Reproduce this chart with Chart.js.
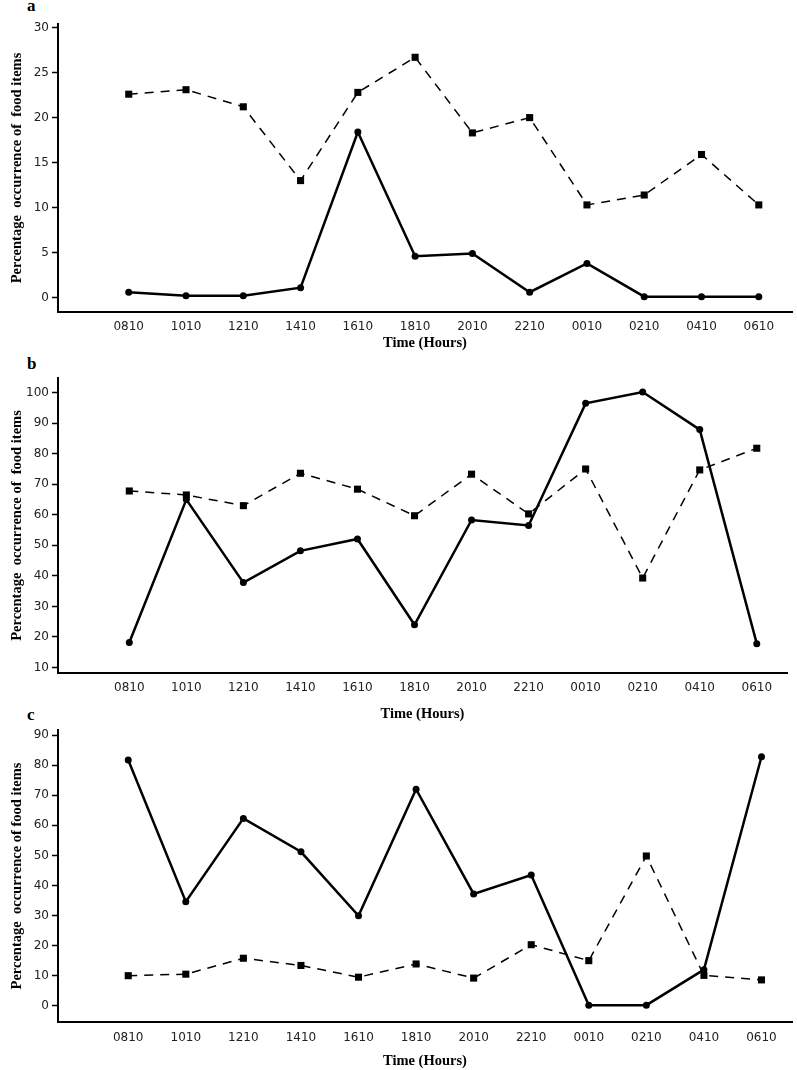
<!DOCTYPE html>
<html>
<head>
<meta charset="utf-8">
<script src="https://cdn.jsdelivr.net/npm/chart.js@4.4.1/dist/chart.umd.min.js"></script>
<style>
  html, body { margin: 0; padding: 0; background: #fff; }
  body { width: 797px; height: 1070px; position: relative; overflow: hidden; }
  canvas { position: absolute; left: 0; }
  .tag { position: absolute; font: bold 17px "Liberation Serif", serif; color: #000; }
</style>
</head>
<body>
<div class="tag" style="left:27px; top:-4px;">a</div>
<div class="tag" style="left:27px; top:354px;">b</div>
<div class="tag" style="left:27px; top:705px;">c</div>
<canvas id="chartA" style="top:0px;"></canvas>
<canvas id="chartB" style="top:355px;"></canvas>
<canvas id="chartC" style="top:705px;"></canvas>
<script>
const times = ['0810', '1010', '1210', '1410', '1610', '1810', '2010', '2210', '0010', '0210', '0410', '0610'];

// panel a
const aCircle = [0.6, 0.2, 0.2, 1.1, 18.4, 4.6, 4.9, 0.6, 3.8, 0.1, 0.1, 0.1];
const aSquare = [22.6, 23.1, 21.2, 13.0, 22.8, 26.7, 18.3, 20.0, 10.3, 11.4, 15.9, 10.3];
const aTicks = [0, 5, 10, 15, 20, 25, 30];

// panel b
const bCircle = [18.2, 65.0, 37.8, 48.2, 52.1, 24.0, 58.3, 56.5, 96.5, 100.2, 87.9, 17.8];
const bSquare = [67.8, 66.5, 63.0, 73.6, 68.4, 59.7, 73.3, 60.3, 75.0, 39.3, 74.7, 81.8];
const bTicks = [10, 20, 30, 40, 50, 60, 70, 80, 90, 100];

// panel c
const cCircle = [81.7, 34.6, 62.3, 51.2, 29.9, 72.0, 37.2, 43.5, 0.2, 0.2, 12.0, 82.8];
const cSquare = [10.0, 10.5, 15.8, 13.4, 9.5, 13.9, 9.2, 20.3, 15.0, 49.8, 10.1, 8.6];
const cTicks = [0, 10, 20, 30, 40, 50, 60, 70, 80, 90];

const TICK_FONT = { family: '"DejaVu Sans", sans-serif', size: 12 };
const TITLE_FONT = { family: '"Liberation Serif", serif', size: 14.5, weight: 'bold' };

function toPoints(values) {
  return values.map((v, i) => ({ x: i, y: v }));
}

function makePanel(cfg) {
  const canvas = document.getElementById(cfg.id);
  canvas.width = 797;
  canvas.height = cfg.height;
  canvas.style.width = '797px';
  canvas.style.height = cfg.height + 'px';

  return new Chart(canvas.getContext('2d'), {
    type: 'line',
    data: {
      datasets: [
        {
          data: toPoints(cfg.square),
          borderColor: '#000',
          backgroundColor: '#000',
          borderWidth: 1.5,
          borderDash: [9, 7],
          tension: 0,
          pointStyle: 'rect',
          pointRadius: 5,
          pointBorderWidth: 0
        },
        {
          data: toPoints(cfg.circle),
          borderColor: '#000',
          backgroundColor: '#000',
          borderWidth: 2.5,
          tension: 0,
          pointStyle: 'circle',
          pointRadius: 3.5,
          pointBorderWidth: 0
        }
      ]
    },
    options: {
      responsive: false,
      animation: false,
      events: [],
      layout: { padding: { top: cfg.padTop, right: cfg.padRight, left: 0, bottom: 0 } },
      plugins: { legend: { display: false }, tooltip: { enabled: false } },
      scales: {
        x: {
          type: 'linear',
          min: cfg.xMin,
          max: cfg.xMax,
          afterFit: s => { s.height = cfg.xHeight; },
          afterBuildTicks: s => { s.ticks = times.map((_, i) => ({ value: i })); },
          grid: { display: false },
          border: { display: true, color: '#000', width: 2 },
          ticks: {
            autoSkip: false,
            maxRotation: 0,
            padding: cfg.tickPad,
            color: '#222',
            font: TICK_FONT,
            callback: v => times[v] ?? ''
          },
          title: {
            display: true,
            text: 'Time (Hours)',
            color: '#000',
            font: TITLE_FONT,
            padding: { top: 0, bottom: cfg.titleBottom }
          }
        },
        y: {
          min: cfg.yMin,
          max: cfg.yMax,
          afterFit: s => { s.width = 58; },
          afterBuildTicks: s => { s.ticks = cfg.ticks.map(v => ({ value: v })); },
          grid: {
            display: true,
            drawOnChartArea: false,
            drawTicks: true,
            tickLength: 6,
            tickWidth: 1.5,
            color: '#000'
          },
          border: { display: true, color: '#000', width: 2 },
          ticks: { padding: 3, color: '#222', font: TICK_FONT },
          title: {
            display: true,
            text: cfg.yTitle,
            color: '#000',
            font: TITLE_FONT,
            padding: { top: 9, bottom: 0 }
          }
        }
      }
    }
  });
}

makePanel({
  id: 'chartA', height: 360, padTop: 24, padRight: 2, xHeight: 48, titleBottom: 8, tickPad: 0,
  xMin: -1.235, xMax: 11.58, yMin: -1.6, yMax: 30.4, ticks: aTicks,
  circle: aCircle, square: aSquare,
  yTitle: 'Percentage  occurrence of  food items'
});

makePanel({
  id: 'chartB', height: 375, padTop: 23, padRight: 10, xHeight: 57, titleBottom: 7, tickPad: 0,
  xMin: -1.25, xMax: 11.53, yMin: 8.2, yMax: 104.8, ticks: bTicks,
  circle: bCircle, square: bSquare,
  yTitle: 'Percentage  occurrence of  food items'
});

makePanel({
  id: 'chartC', height: 365, padTop: 25, padRight: 4, xHeight: 48, titleBottom: 0, tickPad: 1,
  xMin: -1.22, xMax: 11.53, yMin: -5.4, yMax: 91.7, ticks: cTicks,
  circle: cCircle, square: cSquare,
  yTitle: 'Percentage  occurrence of food items'
});
</script>
</body>
</html>
